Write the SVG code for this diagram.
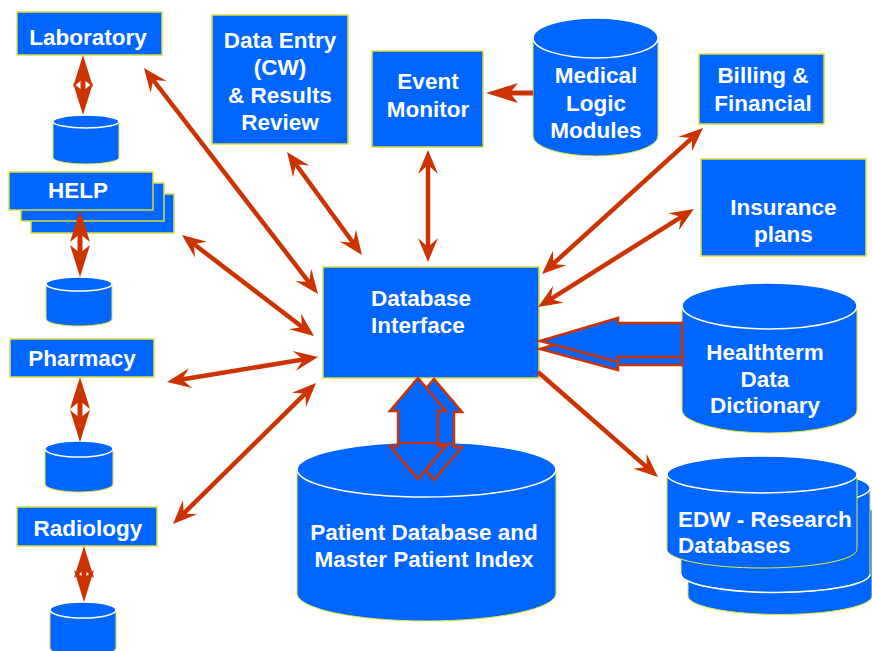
<svg xmlns="http://www.w3.org/2000/svg" width="872" height="651" viewBox="0 0 872 651">
  <defs>
    <style>
      .box { fill: #0066FF; stroke: #D9DE3A; stroke-width: 1.5; }
      .cyl { fill: #0066FF; stroke: #E4E83A; stroke-width: 1; }
      .lid { fill: #0066FF; stroke: #FFFFFF; stroke-width: 1.5; }
      .lbl { font-family: "Liberation Sans", Arial, Helvetica, sans-serif; font-weight: bold; font-size: 22.5px; fill: #FFFFFF; text-anchor: middle; }
      .left { text-anchor: start; }
      .link { stroke: #CC3300; stroke-width: 4.5; fill: none; }
      .short { stroke: #CC3300; stroke-width: 5; fill: none; }
      .fat { fill: #0066FF; stroke: #CC3300; stroke-width: 2.5; stroke-linejoin: miter; }
      marker { overflow: visible; }
    </style>
    <marker id="head" markerUnits="userSpaceOnUse" markerWidth="30" markerHeight="24" refX="0" refY="0" orient="auto-start-reverse">
      <path d="M12,0 L-12,-10 L-3,0 L-12,10 Z" fill="#CC3300"/>
    </marker>
    <marker id="headLong" markerUnits="userSpaceOnUse" markerWidth="36" markerHeight="24" refX="0" refY="0" orient="auto-start-reverse">
      <path d="M16,0 L-16,-10 L-8,0 L-16,10 Z" fill="#CC3300"/>
    </marker>
  </defs>

  <rect width="872" height="651" fill="#FFFFFF"/>

  <!-- left column: departmental systems with their local stores -->
  <g id="laboratory">
    <rect class="box" x="17" y="12" width="145" height="43"/>
    <text class="lbl" x="88" y="45">Laboratory</text>
  </g>
  <g id="laboratory-db">
    <path class="cyl" d="M53,121.5 L53,157.5 A33,6.5 0 0 0 119,157.5 L119,121.5 Z"/>
    <ellipse class="lid" cx="86" cy="121.5" rx="33" ry="6.5"/>
  </g>

  <g id="help">
    <rect class="box" x="31" y="194" width="143" height="39"/>
    <rect class="box" x="21" y="183" width="143" height="38"/>
    <rect class="box" x="9" y="172" width="144" height="38"/>
    <text class="lbl" x="78" y="198">HELP</text>
  </g>
  <g id="help-db">
    <path class="cyl" d="M46,284 L46,319 A33,7 0 0 0 112,319 L112,284 Z"/>
    <ellipse class="lid" cx="79" cy="284" rx="33" ry="7"/>
  </g>

  <g id="pharmacy">
    <rect class="box" x="10" y="339" width="144" height="38"/>
    <text class="lbl" x="82" y="366">Pharmacy</text>
  </g>
  <g id="pharmacy-db">
    <path class="cyl" d="M45,449 L45,484 A34,8 0 0 0 113,484 L113,449 Z"/>
    <ellipse class="lid" cx="79" cy="449" rx="34" ry="8"/>
  </g>

  <g id="radiology">
    <rect class="box" x="17" y="507" width="140" height="39"/>
    <text class="lbl" x="88" y="536">Radiology</text>
  </g>
  <g id="radiology-db">
    <path class="cyl" d="M50,610 L50,648 A33,8 0 0 0 116,648 L116,610 Z"/>
    <ellipse class="lid" cx="83" cy="610" rx="33" ry="8"/>
  </g>

  <!-- top row -->
  <g id="data-entry">
    <rect class="box" x="212" y="15" width="136" height="129"/>
    <text class="lbl" x="280" y="48">Data Entry</text>
    <text class="lbl" x="280" y="75">(CW)</text>
    <text class="lbl" x="280" y="102.5">&amp; Results</text>
    <text class="lbl" x="280" y="129.5">Review</text>
  </g>

  <g id="event-monitor">
    <rect class="box" x="372" y="51" width="111" height="96"/>
    <text class="lbl" x="428" y="89">Event</text>
    <text class="lbl" x="428" y="116.5">Monitor</text>
  </g>

  <g id="medical-logic-modules">
    <path class="cyl" d="M533,38 L533,136 A62.5,20 0 0 0 658,136 L658,38 Z"/>
    <ellipse class="lid" cx="595.5" cy="38" rx="62.5" ry="20"/>
    <text class="lbl" x="596" y="83">Medical</text>
    <text class="lbl" x="596" y="111">Logic</text>
    <text class="lbl" x="596" y="138">Modules</text>
  </g>

  <g id="billing">
    <rect class="box" x="699" y="54" width="125" height="70"/>
    <text class="lbl" x="763" y="83">Billing &amp;</text>
    <text class="lbl" x="763" y="110.5">Financial</text>
  </g>

  <g id="insurance">
    <rect class="box" x="701" y="159" width="165" height="97"/>
    <text class="lbl" x="783.5" y="215">Insurance</text>
    <text class="lbl" x="783.5" y="241.5">plans</text>
  </g>

  <!-- hub -->
  <g id="database-interface">
    <rect class="box" x="323" y="267" width="216" height="111"/>
    <text class="lbl left" x="371" y="305.5">Database</text>
    <text class="lbl left" x="371" y="333">Interface</text>
  </g>

  <g id="healthterm">
    <path class="cyl" d="M682,306 L682,410 A87.5,23 0 0 0 857,410 L857,306 Z"/>
    <ellipse class="lid" cx="769.5" cy="306" rx="87.5" ry="23"/>
    <text class="lbl" x="765" y="360">Healthterm</text>
    <text class="lbl" x="765" y="386.5">Data</text>
    <text class="lbl" x="765" y="413">Dictionary</text>
  </g>

  <g id="patient-database">
    <path class="cyl" d="M297,469.5 L297,593.5 A129.5,27.5 0 0 0 556,593.5 L556,469.5 Z"/>
    <ellipse class="lid" cx="426.5" cy="469.5" rx="129.5" ry="27.5"/>
    <text class="lbl" x="424" y="540">Patient Database and</text>
    <text class="lbl" x="424" y="566.5">Master Patient Index</text>
  </g>

  <g id="edw">
    <path class="cyl" d="M688,510 L688,596 A92,18.5 0 0 0 872,596 L872,510 Z"/>
    <path class="cyl" d="M681,488 L681,574 A94.5,18.5 0 0 0 870,574 L870,488 Z"/>
    <path d="M681,574 A94.5,18.5 0 0 0 870,574" fill="none" stroke="#FFFFFF" stroke-width="1.5"/>
    <ellipse class="lid" cx="775.5" cy="488" rx="94.5" ry="18.5"/>
    <path class="cyl" d="M667,474.5 L667,549.5 A95,18.5 0 0 0 857,549.5 L857,474.5 Z"/>
    <ellipse class="lid" cx="762" cy="474.5" rx="95" ry="18.5"/>
    <text class="lbl left" x="678" y="526.5">EDW - Research</text>
    <text class="lbl left" x="678" y="552.5">Databases</text>
  </g>

  <!-- connectors -->
  <g id="connectors">
    <!-- local store links -->
    <line class="short" x1="83" y1="71" x2="83" y2="99" marker-start="url(#headLong)" marker-end="url(#headLong)"/>
    <line class="short" x1="80" y1="226" x2="80" y2="261" marker-start="url(#headLong)" marker-end="url(#headLong)"/>
    <line class="short" x1="80" y1="393" x2="80" y2="426" marker-start="url(#headLong)" marker-end="url(#headLong)"/>
    <line class="short" x1="84" y1="562" x2="84" y2="586" marker-start="url(#headLong)" marker-end="url(#headLong)"/>

    <!-- links to the database interface -->
    <line class="link" x1="151.3" y1="77.5" x2="310.7" y2="284.5" marker-start="url(#head)" marker-end="url(#head)"/>
    <line class="link" x1="294.1" y1="161.7" x2="354.9" y2="245.3" marker-start="url(#head)" marker-end="url(#head)"/>
    <line class="link" x1="428" y1="162" x2="428" y2="250" marker-start="url(#head)" marker-end="url(#head)"/>
    <line class="link" x1="191.5" y1="242.3" x2="304.5" y2="328.7" marker-start="url(#head)" marker-end="url(#head)"/>
    <line class="link" x1="178.8" y1="380" x2="306.2" y2="359" marker-start="url(#head)" marker-end="url(#head)"/>
    <line class="link" x1="181.5" y1="515.6" x2="307.5" y2="391.4" marker-start="url(#head)" marker-end="url(#head)"/>
    <line class="link" x1="694.1" y1="136.1" x2="550.9" y2="265.9" marker-start="url(#head)" marker-end="url(#head)"/>
    <line class="link" x1="683.8" y1="215.4" x2="548.2" y2="300.6" marker-start="url(#head)" marker-end="url(#head)"/>
    <line class="link" x1="538" y1="372" x2="649" y2="469.1" marker-end="url(#head)"/>
    <line class="short" x1="533" y1="93" x2="502" y2="93" marker-end="url(#headLong)"/>

    <!-- dictionary feed (doubled block arrow) -->
    <polygon class="fat" points="540,349 618,326 618,331 682,331 682,365 618,365 618,370"/>
    <polygon class="fat" points="540,341 618,318 618,323 682,323 682,357 618,357 618,362"/>

    <!-- patient database exchange (doubled block arrow) -->
    <g transform="translate(16,1)">
      <polygon class="fat" points="418,378 446,411 438,411 438,446 446,446 418,479 390,446 398,446 398,411 390,411"/>
      <line x1="398" y1="443" x2="438" y2="443" stroke="#CC3300" stroke-width="2"/>
    </g>
    <polygon class="fat" points="418,378 446,411 438,411 438,446 446,446 418,479 390,446 398,446 398,411 390,411"/>
    <line x1="398" y1="443" x2="438" y2="443" stroke="#CC3300" stroke-width="2"/>
  </g>
</svg>
